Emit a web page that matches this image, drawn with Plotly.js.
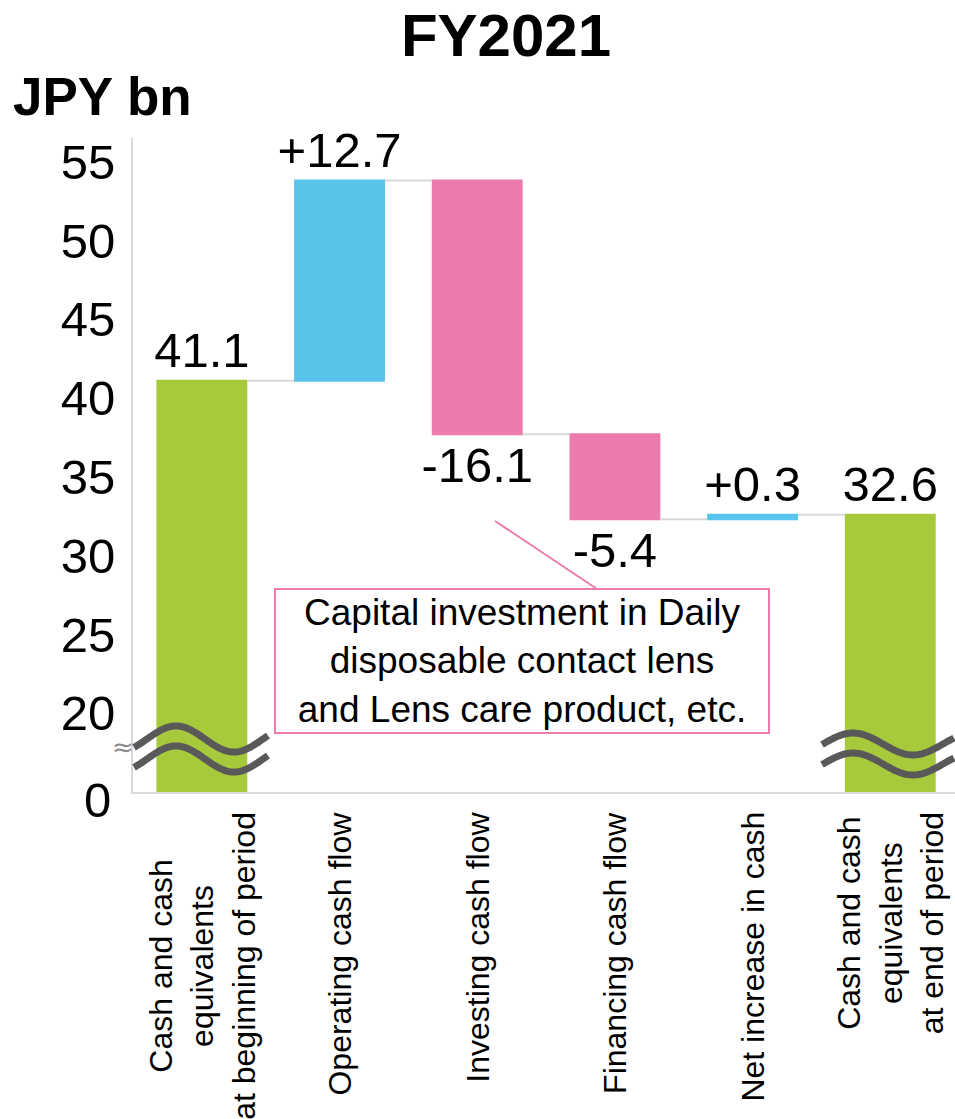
<!DOCTYPE html>
<html>
<head>
<meta charset="utf-8">
<script src="https://cdn.plot.ly/plotly-3.0.1.min.js"></script>
<style>html,body{margin:0;padding:0;background:#fff;}#chart{width:955px;height:1119px;}</style>
</head>
<body>
<div id="chart"></div>
<script>
// ---- data ----
const categories = [
  "Cash and cash<br>equivalents<br>at beginning of period",
  "Operating cash flow",
  "Investing cash flow",
  "Financing cash flow",
  "Net increase in cash",
  "Cash and cash<br>equivalents<br>at end of period"
];
const values = [41.1, 12.7, -16.1, -5.4, 0.3, 32.6];
const measures = ["absolute", "relative", "relative", "relative", "relative", "total"];
const yTickVals = [20, 25, 30, 35, 40, 45, 50, 55];
const yTickText = ["20", "25", "30", "35", "40", "45", "50", "55"];
const brokenAxisLabel = "0";
const chartTitle = "FY2021";
const unitLabel = "JPY bn";
const calloutText = "Capital investment in Daily<br>disposable contact lens<br>and Lens care product, etc.";

// ---- layout geometry ----
const L = 133, T = 138, W = 822, H = 654;
const FIG_W = 955, FIG_H = 1119;
const px2x = px => (px - L) / W;
const py2y = py => (T + H - py) / H;

const GREEN = "#A6CA3C", BLUE = "#59C4EA", PINK = "#ED7AAC";
const FONT = "Liberation Sans, Arial, sans-serif";

const labels = values.map((v, i) => measures[i] === "relative" ? (v > 0 ? "+" : "") + v.toFixed(1) : v.toFixed(1));

const trace = {
  type: "waterfall",
  x: categories,
  y: values,
  measure: measures,
  text: labels,
  textinfo: "text",
  textposition: "outside",
  constraintext: "none",
  textfont: {family: FONT, size: 49, color: "#000"},
  cliponaxis: false,
  increasing: {marker: {color: BLUE, line: {width: 0}}},
  decreasing: {marker: {color: PINK, line: {width: 0}}},
  totals: {marker: {color: GREEN, line: {width: 0}}},
  connector: {mode: "between", line: {color: "#d9d9d9", width: 2}},
  hoverinfo: "skip"
};

// wavy break marks (decoration)
function wavePath(x0, x1, yc, amp, peakX, period) {
  let d = "";
  for (let px = x0; px <= x1; px += 2) {
    const py = yc - amp * Math.cos(2 * Math.PI * (px - peakX) / period);
    d += (d ? " L " : "M ") + px2x(px).toFixed(5) + "," + py2y(py).toFixed(5);
  }
  return d;
}
const waveStyle = {type: "path", xref: "paper", yref: "paper", line: {color: "#595959", width: 7}, layer: "above"};
const shapes = [
  Object.assign({path: wavePath(134, 268, 739, 13, 176, 116)}, waveStyle),
  Object.assign({path: wavePath(134, 268, 759, 13, 176, 116)}, waveStyle),
  Object.assign({path: wavePath(822, 955, 744, 11, 853, 120)}, waveStyle),
  Object.assign({path: wavePath(822, 955, 764, 11, 853, 120)}, waveStyle),
  {type: "line", xref: "paper", yref: "paper", x0: px2x(495), y0: py2y(521), x1: px2x(597), y1: py2y(589),
   line: {color: PINK, width: 2}, layer: "above"}
];

const annotations = categories.map((c, i) => ({
  x: i, xref: "x", y: 0, yref: "paper", yanchor: "top", xanchor: "center", yshift: -18,
  text: c, textangle: -90, align: "center", showarrow: false,
  font: {family: FONT, size: 32, color: "#000"}
}));
annotations.push({
  x: px2x(113), xref: "paper", y: py2y(800), yref: "paper", xanchor: "right", yanchor: "middle",
  text: brokenAxisLabel, showarrow: false, font: {family: FONT, size: 49, color: "#000"}
});
annotations.push({
  x: px2x(123), xref: "paper", y: py2y(747), yref: "paper", xanchor: "center", yanchor: "middle",
  text: "≈", showarrow: false, font: {family: "DejaVu Sans, sans-serif", size: 26, color: "#8c8c8c"}
});
annotations.push({
  x: px2x(11), xref: "paper", y: py2y(97), yref: "paper", xanchor: "left", yanchor: "middle",
  text: "<b>" + unitLabel + "</b>", showarrow: false, font: {family: FONT, size: 53, color: "#000"}
});
annotations.push({
  x: px2x(522), xref: "paper", y: py2y(661), yref: "paper", xanchor: "center", yanchor: "middle",
  text: calloutText, showarrow: false, align: "center",
  width: 492, height: 142, borderpad: 0,
  bordercolor: PINK, borderwidth: 2, bgcolor: "#fff",
  font: {family: FONT, size: 37, color: "#000"}
});

const layout = {
  width: FIG_W, height: FIG_H,
  margin: {l: L, r: FIG_W - L - W, t: T, b: FIG_H - T - H, pad: 0},
  paper_bgcolor: "#fff", plot_bgcolor: "#fff",
  showlegend: false,
  title: {text: "<b>" + chartTitle + "</b>", xref: "container", yref: "container",
          x: 506 / FIG_W, y: 1 - 35 / FIG_H, xanchor: "center", yanchor: "middle",
          font: {family: FONT, size: 60, color: "#000"}},
  xaxis: {range: [-0.5, 5.47], showticklabels: false, showgrid: false, zeroline: false,
          showline: true, linecolor: "#d9d9d9", linewidth: 2, ticks: "", fixedrange: true},
  yaxis: {range: [15, 56.5], tickvals: yTickVals, ticktext: yTickText, showgrid: false, zeroline: false,
          showline: true, linecolor: "#d9d9d9", linewidth: 2, ticks: "", ticklabelstandoff: 6,
          tickfont: {family: FONT, size: 49, color: "#000"}, fixedrange: true},
  waterfallgap: 0.34,
  shapes: shapes,
  annotations: annotations
};

Plotly.newPlot("chart", [trace], layout, {displayModeBar: false, staticPlot: true});
</script>
</body>
</html>
